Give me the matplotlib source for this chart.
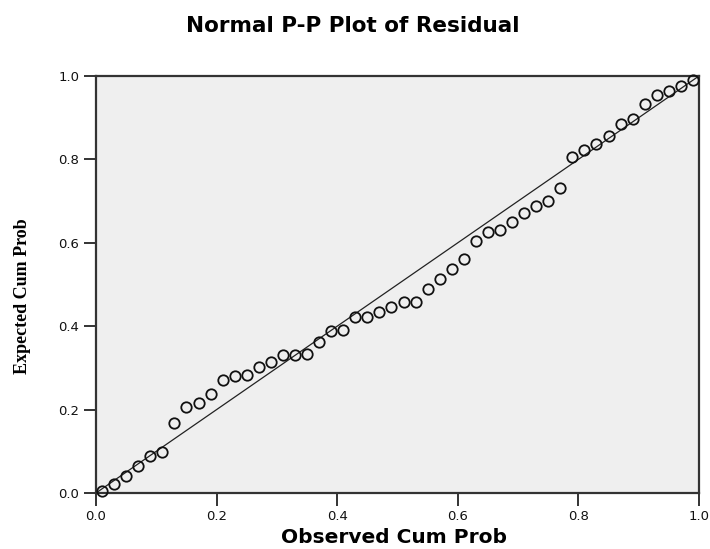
import matplotlib
matplotlib.use("Agg")
import matplotlib.pyplot as plt

observed = [0.01, 0.03, 0.05, 0.07, 0.09, 0.11, 0.13, 0.15, 0.17, 0.19,
            0.21, 0.23, 0.25, 0.27, 0.29, 0.31, 0.33, 0.35, 0.37, 0.39,
            0.41, 0.43, 0.45, 0.47, 0.49, 0.51, 0.53, 0.55, 0.57, 0.59,
            0.61, 0.63, 0.65, 0.67, 0.69, 0.71, 0.73, 0.75, 0.77, 0.79,
            0.81, 0.83, 0.85, 0.87, 0.89, 0.91, 0.93, 0.95, 0.97, 0.99]
expected = [0.005, 0.022, 0.040, 0.064, 0.088, 0.099, 0.169, 0.207, 0.215, 0.237,
            0.271, 0.280, 0.284, 0.302, 0.313, 0.330, 0.331, 0.334, 0.362, 0.389,
            0.391, 0.421, 0.421, 0.434, 0.447, 0.457, 0.459, 0.490, 0.513, 0.536,
            0.562, 0.605, 0.625, 0.631, 0.651, 0.671, 0.689, 0.701, 0.732, 0.805,
            0.822, 0.836, 0.855, 0.886, 0.898, 0.934, 0.955, 0.963, 0.975, 0.990]
ref_line = [0.0, 1.0]
ticks = [0.0, 0.2, 0.4, 0.6, 0.8, 1.0]
tick_labels = ["0.0", "0.2", "0.4", "0.6", "0.8", "1.0"]

fig = plt.figure(figsize=(7.1, 5.49), dpi=100)
ax = fig.add_axes([0.1352, 0.102, 0.8493, 0.7596])
ax.set_facecolor("#efefef")

ax.plot(ref_line, ref_line, color="#222222", linewidth=0.9, zorder=2)
ax.plot(observed, expected, linestyle="none", marker="o", markersize=7.5,
        markerfacecolor="none", markeredgecolor="#111111", markeredgewidth=1.3,
        zorder=3, clip_on=False)

ax.set_xlim(0, 1)
ax.set_ylim(0, 1)
ax.set_xticks(ticks)
ax.set_xticklabels(tick_labels)
ax.set_yticks(ticks)
ax.set_yticklabels(tick_labels)
ax.tick_params(direction="out", length=9, width=1.2, colors="#111111",
               labelsize=9.5, pad=3)
for sp in ax.spines.values():
    sp.set_linewidth(1.6)
    sp.set_color("#333333")

fig.text(0.497, 0.953, "Normal P-P Plot of Residual", ha="center", va="center",
         fontsize=15.5, fontweight="bold", family="DejaVu Sans")
ax.set_xlabel("Observed Cum Prob", fontsize=14.5, fontweight="bold",
              family="DejaVu Sans")
ax.xaxis.set_label_coords(0.495, -0.083)
ax.set_ylabel("Expected Cum Prob", fontsize=13, fontweight="bold",
              family="Liberation Serif")
ax.yaxis.set_label_coords(-0.107, 0.472)

fig.savefig("out.png", dpi=100)
